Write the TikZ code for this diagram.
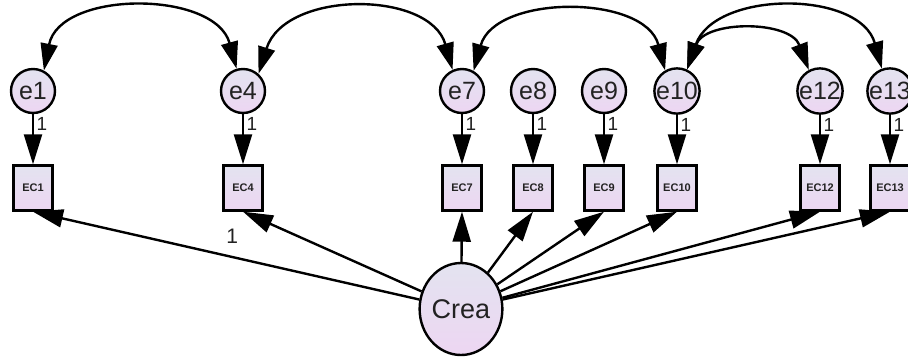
\documentclass[tikz,border=0pt]{standalone}
\usepackage{fontspec}
\setmainfont{Liberation Sans}
\usetikzlibrary{arrows.meta,shapes.geometric}
\definecolor{fillA}{HTML}{E3E3F0}
\definecolor{fillB}{HTML}{EDD6F2}
\definecolor{ink}{HTML}{222222}
\begin{document}
\begin{tikzpicture}[x=1pt,y=-1pt,
  lw/.style={line width=2.4pt},
  errnode/.style={circle, draw, lw, minimum size=44pt, inner sep=0pt,
    top color=fillA, bottom color=fillB, text=ink,
    font=\fontsize{25}{25}\selectfont},
  obsbox/.style={rectangle, draw, lw, minimum width=39pt, minimum height=45pt,
    inner sep=0pt, top color=fillA, bottom color=fillB, text=ink,
    font=\bfseries\fontsize{11}{11}\selectfont},
  latent/.style={ellipse, draw, lw, minimum width=78pt, minimum height=92pt,
    inner sep=0pt, top color=fillA, bottom color=fillB, text=ink,
    font=\fontsize{27}{27}\selectfont},
  regarrow/.style={lw, -{Triangle[length=30pt,width=18pt]}},
  covarrow/.style={lw, {Triangle[length=27pt,width=17pt]}-{Triangle[length=27pt,width=17pt]}},
  wlabel/.style={text=ink, font=\fontsize{19}{19}\selectfont, inner sep=0pt},
  plabel/.style={text=ink, font=\fontsize{21}{21}\selectfont, inner sep=1pt}
]
\useasboundingbox (0,0) rectangle (908,357);

% error terms
\node[errnode] (e1)  at (33,91)  {e1};
\node[errnode] (e4)  at (243,91) {e4};
\node[errnode] (e7)  at (462,91) {e7};
\node[errnode] (e8)  at (533,91) {e8};
\node[errnode] (e9)  at (604,91) {e9};
\node[errnode] (e10) at (677,91) {e10};
\node[errnode] (e12) at (820,91) {e12};
\node[errnode] (e13) at (890,91) {e13};

% observed indicators
\node[obsbox] (ec1)  at (33,188)  {EC1};
\node[obsbox] (ec4)  at (243,188) {EC4};
\node[obsbox] (ec7)  at (462,188) {EC7};
\node[obsbox] (ec8)  at (533,188) {EC8};
\node[obsbox] (ec9)  at (604,188) {EC9};
\node[obsbox] (ec10) at (677,188) {EC10};
\node[obsbox] (ec12) at (820,188) {EC12};
\node[obsbox] (ec13) at (890,188) {EC13};

% latent factor
\node[latent] (crea) at (461,309) {Crea};

% error paths (fixed to 1)
\foreach \i in {1,4,7,8,9,10,12,13}{
  \draw[regarrow] (e\i) -- node[wlabel, right=2.5pt, pos=0.2]{1} (ec\i);
}

% loadings
\draw[regarrow] (crea) -- node[plabel, above=10pt, xshift=6pt, pos=0.5]{1} (ec1.south);
\foreach \i in {4,7,8,9,10,12,13}{
  \draw[regarrow] (crea) -- (ec\i.south);
}

% error covariances
\draw[covarrow] (e1.62) .. controls (60,-10) and (215,-10) .. (e4.106);
\draw[covarrow] (e4.48) .. controls (285,-10) and (430,-10) .. (e7.114);
\draw[covarrow] (e7.60) .. controls (495,-6) and (645,-6) .. (e10.120);
\draw[covarrow] (e10.65) .. controls (705,20) and (790,20) .. (e12.118);
\draw[covarrow] (e10.65) .. controls (715,-10) and (860,-10) .. (e13.110);
\end{tikzpicture}
\end{document}
